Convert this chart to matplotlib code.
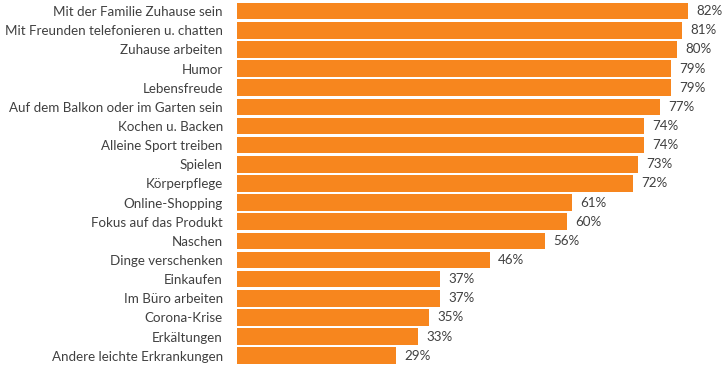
import matplotlib
matplotlib.use("Agg")
import matplotlib.pyplot as plt

categories = [
    "Mit der Familie Zuhause sein",
    "Mit Freunden telefonieren u. chatten",
    "Zuhause arbeiten",
    "Humor",
    "Lebensfreude",
    "Auf dem Balkon oder im Garten sein",
    "Kochen u. Backen",
    "Alleine Sport treiben",
    "Spielen",
    "Körperpflege",
    "Online-Shopping",
    "Fokus auf das Produkt",
    "Naschen",
    "Dinge verschenken",
    "Einkaufen",
    "Im Büro arbeiten",
    "Corona-Krise",
    "Erkältungen",
    "Andere leichte Erkrankungen",
]
values = [82, 81, 80, 79, 79, 77, 74, 74, 73, 72, 61, 60, 56, 46, 37, 37, 35, 33, 29]

W, H = 728, 371
FONT = "Lato"
fig = plt.figure(figsize=(W / 100, H / 100), dpi=100)

# fit font size so the longest label is ~218 px wide, as in the reference
renderer = fig.canvas.get_renderer()
t = fig.text(0, 0, max(categories, key=len), fontsize=10, family=FONT)
w10 = t.get_window_extent(renderer).width
t.remove()
fs = 10 * 218 / w10

left = 236.7 / W
xmax = 88
ax = fig.add_axes([left, 1 - 365.3 / H, xmax * 5.5 / W, (365.3 - 1.6) / H])

color = "#F7861E"
ypos = list(range(len(categories)))
ax.barh(ypos, values, height=0.87, color=color, edgecolor="none")
ax.set_ylim(len(categories) - 0.5, -0.5)
ax.set_xlim(0, xmax)

ax.set_yticks(ypos)
ax.set_yticklabels(categories, fontsize=fs, color="#404040", family=FONT)
ax.tick_params(axis="y", length=0, pad=10)
ax.set_xticks([])
for s in ax.spines.values():
    s.set_visible(False)

for y, v in zip(ypos, values):
    ax.annotate(f"{v}%", xy=(v, y), xytext=(6, 0), textcoords="offset points",
                va="center", ha="left", fontsize=fs, color="#404040", family=FONT)

fig.savefig("out.png", dpi=100)
